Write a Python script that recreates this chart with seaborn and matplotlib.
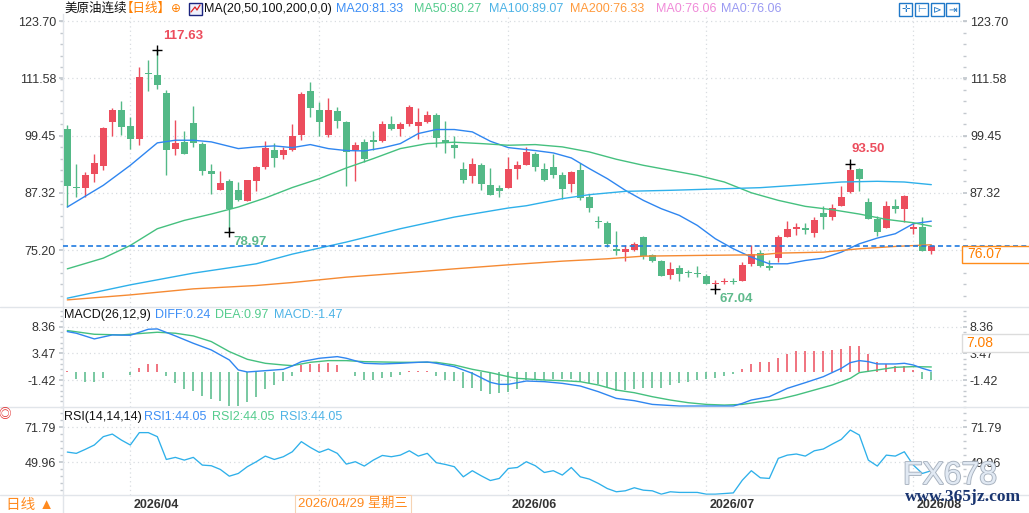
import numpy as np
import matplotlib
matplotlib.use("Agg")
import matplotlib.pyplot as plt
import matplotlib.transforms as mtransforms
import matplotlib.patheffects as pe
from matplotlib.patches import Rectangle
from matplotlib.lines import Line2D
from matplotlib.ticker import FixedLocator
import seaborn as sns

# ---------------- data ----------------
open_ = [100.96, 88.47, 88.36, 91.33, 93.03, 102.37, 104.85, 101.45, 98.76, 112.62,
         112.28, 108.46, 96.64, 98.06, 102.09, 97.63, 91.90, 87.94, 89.78, 87.87,
         85.60, 89.85, 92.75, 96.36, 95.30, 96.50, 99.61, 108.88, 104.85, 99.61,
         104.64, 102.30, 96.36, 98.06, 98.27, 98.34, 101.88, 100.82, 101.88, 101.52,
         102.30, 103.79, 98.48, 97.42, 92.32, 90.91, 93.17, 88.93, 88.29, 88.36,
         92.40, 93.24, 95.51, 92.32, 92.75, 91.05, 89.28, 92.11, 86.38, 81.19,
         80.86, 75.48, 74.77, 75.20, 77.96, 74.07, 72.93, 69.89, 71.31, 70.35,
         70.18, 69.75, 67.98, 68.40, 68.50, 68.62, 72.22, 74.63, 71.73, 73.57,
         78.03, 79.73, 79.87, 78.81, 82.98, 82.27, 84.54, 87.51, 92.32, 85.32,
         81.78, 79.87, 84.47, 83.90, 79.73, 80.01, 74.99]
high = [101.67, 93.39, 91.76, 95.51, 101.31, 105.27, 106.76, 103.36, 113.98, 115.40,
        117.63, 109.03, 102.73, 100.39, 105.70, 98.13, 93.39, 91.90, 90.34, 89.64,
        90.10, 93.03, 98.41, 97.84, 97.14, 101.88, 108.60, 110.80, 106.55, 107.40,
        105.42, 102.66, 98.06, 98.69, 100.39, 102.66, 103.58, 102.30, 105.91, 105.27,
        104.78, 104.28, 102.66, 99.33, 93.81, 94.66, 93.60, 92.54, 88.93, 94.87,
        94.02, 97.00, 96.00, 93.60, 95.58, 91.76, 91.97, 93.67, 87.09, 82.35,
        81.43, 79.16, 76.19, 76.83, 78.10, 74.35, 73.15, 72.58, 72.01, 71.09,
        71.80, 70.17, 68.76, 69.32, 69.32, 72.58, 76.19, 75.13, 73.15, 78.45,
        81.29, 80.86, 80.86, 82.13, 84.54, 85.04, 88.72, 93.50, 92.68, 86.17,
        82.35, 85.53, 86.03, 86.80, 81.00, 82.27, 76.19]
low = [84.33, 86.45, 86.45, 89.64, 92.11, 99.40, 99.54, 96.64, 97.49, 108.88,
       109.24, 91.05, 95.30, 95.58, 97.07, 91.19, 87.16, 87.94, 78.97, 85.60,
       85.50, 87.72, 92.32, 92.75, 94.59, 96.29, 98.55, 103.43, 99.40, 99.19,
       101.10, 88.79, 89.85, 93.81, 96.36, 98.06, 100.60, 99.40, 101.60, 98.76,
       102.09, 97.07, 95.86, 94.73, 89.49, 89.42, 87.94, 86.87, 86.45, 88.36,
       90.27, 93.24, 91.97, 89.85, 90.49, 86.03, 87.51, 85.88, 83.27, 79.87,
       75.91, 74.14, 72.86, 75.06, 73.36, 72.65, 69.68, 69.04, 68.62, 69.47,
       69.47, 67.98, 67.04, 68.12, 68.05, 68.62, 71.80, 71.59, 70.88, 72.65,
       78.03, 78.31, 78.59, 77.96, 79.66, 81.57, 84.54, 87.30, 87.72, 81.78,
       78.17, 79.87, 83.05, 81.15, 78.52, 74.99, 74.35]
close = [88.79, 88.37, 91.05, 93.60, 101.03, 104.85, 101.31, 98.76, 111.86, 112.50,
         110.23, 96.43, 97.84, 95.58, 97.91, 91.97, 91.40, 89.35, 83.90, 85.74,
         89.99, 92.75, 96.78, 94.73, 96.36, 99.33, 108.25, 105.35, 102.37, 104.85,
         102.59, 96.00, 97.42, 94.45, 98.18, 101.88, 100.82, 101.88, 105.49, 102.30,
         103.79, 98.98, 97.91, 96.85, 90.06, 93.39, 89.21, 86.87, 87.72, 92.32,
         93.17, 95.93, 92.82, 90.06, 91.12, 88.15, 91.69, 86.24, 84.12, 81.08,
         76.47, 75.06, 75.34, 76.40, 73.92, 72.86, 69.68, 71.23, 70.10, 70.25,
         70.10, 67.98, 68.33, 68.50, 68.40, 71.94, 74.42, 71.80, 71.38, 77.89,
         79.59, 80.08, 79.52, 81.50, 82.20, 84.19, 86.38, 92.11, 90.27, 81.78,
         79.02, 84.47, 83.90, 86.59, 80.01, 74.99, 76.07]

ma20_day = [0, 4, 7, 10, 12, 14, 16, 19, 21, 23, 25, 27, 29, 31, 33, 35, 37, 39, 41, 43, 45, 47, 49, 51,
            52, 54, 56, 58, 60, 62, 64, 66, 68, 70, 72, 74, 76, 78, 80, 82, 84, 86, 88, 90, 92, 94, 96]
ma20 = [84.33, 88.93, 93.17, 97.92, 98.48, 98.48, 98.13, 96.71, 97.07, 97.28, 96.92, 97.56, 96.71, 96.29,
        96.22, 96.85, 97.77, 99.90, 100.75, 100.75, 100.25, 98.27, 96.92, 96.50, 96.29, 95.79, 94.73,
        92.47, 90.34, 87.87, 85.74, 83.97, 82.56, 80.43, 77.61, 75.48, 73.71, 72.30, 72.30, 73.00,
        73.50, 74.77, 76.54, 77.75, 78.67, 80.79, 81.33]
ma50_day = [0, 4, 7, 10, 13, 16, 19, 22, 25, 28, 31, 34, 37, 40, 43, 46, 49, 52, 55, 58, 61, 64, 67,
            70, 73, 76, 79, 82, 85, 88, 91, 94, 96]
ma50 = [71.23, 73.50, 76.19, 79.73, 81.50, 82.84, 84.33, 86.24, 88.46, 90.34, 92.61, 94.59, 96.71,
        97.77, 98.06, 97.77, 97.42, 97.56, 97.07, 96.00, 94.45, 93.17, 92.11, 91.05, 89.63, 87.35,
        85.74, 84.47, 83.76, 82.84, 81.71, 81.00, 80.27]
ma100_day = [0, 7, 14, 21, 25, 31, 37, 43, 49, 51, 55, 58, 62, 67, 72, 77, 82, 86, 90, 93, 96]
ma100 = [65.01, 67.84, 70.32, 72.30, 74.35, 76.90, 79.73, 82.20, 84.12, 84.60, 86.10, 86.95, 87.65,
         87.87, 88.15, 88.43, 89.07, 89.63, 89.78, 89.63, 89.07]
ma200_day = [0, 7, 14, 21, 25, 31, 37, 43, 49, 55, 60, 64, 70, 77, 79, 84, 88, 92, 96]
ma200 = [64.65, 65.71, 66.99, 67.70, 68.33, 69.47, 70.32, 71.23, 72.08, 72.86, 73.36, 73.92, 74.07,
         74.21, 74.56, 74.77, 75.48, 75.98, 76.33]

macd_hist = [0.3, -1.2, -1.7, -1.8, -1.0, 0.1, 0.1, -0.5, 0.7, 1.5,
             1.5, -0.7, -1.9, -3.1, -3.4, -4.3, -4.9, -5.2, -6.1, -6.1,
             -5.4, -4.5, -3.1, -2.3, -1.6, -0.6, 1.3, 1.6, 1.6, 1.7,
             1.3, 0.1, -0.7, -1.4, -1.4, -1.0, -0.9, -0.5, 0.2, 0.2,
             0.2, -0.7, -1.4, -1.6, -2.8, -2.9, -3.4, -3.9, -3.8, -3.6,
             -3.0, -1.4, -1.4, -1.4, -1.3, -1.3, -1.2, -1.8, -1.9, -2.1,
             -2.7, -3.4, -3.3, -3.1, -2.9, -2.9, -2.9, -2.3, -1.9, -1.7,
             -1.4, -1.3, -1.0, -0.7, -0.3, 0.6, 1.5, 1.8, 1.8, 2.7,
             3.3, 3.8, 3.8, 3.9, 3.9, 4.1, 4.3, 4.8, 4.8, 3.4,
             1.8, 1.5, 1.2, 1.2, 0.4, -1.2, -1.5]
diff_day = [0, 1, 3, 5, 7, 9, 10, 12, 14, 16, 18, 19, 20, 22, 24, 25, 26, 28, 30, 31,
            33, 35, 37, 39, 40, 41, 43, 45, 47, 48, 49, 51, 53, 55, 57, 59, 61, 63, 65, 68,
            72, 74, 75, 76, 78, 80, 82, 84, 86, 87, 88, 89, 90, 92, 93, 94, 95, 96]
diff = [7.44, 7.14, 6.10, 6.83, 6.77, 7.87, 7.93, 6.65, 5.30, 4.08, 2.25, 0.42, 0.05, 0.29, 0.54,
        1.15, 1.94, 2.56, 2.86, 2.56, 1.64, 1.52, 1.64, 1.82, 1.88, 1.64, 1.03, -0.19, -1.84, -2.21,
        -2.21, -1.60, -1.72, -2.03, -2.52, -3.55, -4.78, -5.20, -5.88, -6.18, -6.18, -6.18, -5.69,
        -5.08, -4.47, -2.94, -1.90, -0.81, 0.72, 1.76, 2.13, 1.94, 1.52, 1.52, 1.64, 1.33, 0.72, 0.24]
dea_day = [0, 3, 6, 10, 12, 14, 16, 18, 20, 22, 24, 25, 27, 29, 31, 33, 37, 41, 43, 45,
           47, 49, 50, 53, 55, 57, 59, 61, 63, 65, 67, 69, 71, 73, 75, 77, 79, 81, 83, 85,
           87, 88, 90, 92, 94, 96]
dea = [7.63, 6.95, 6.83, 7.32, 7.14, 6.65, 5.61, 3.78, 2.37, 1.64, 1.33, 1.21, 1.82, 2.13, 2.13,
       1.94, 1.82, 1.82, 1.33, 0.54, -0.07, -0.81, -1.11, -1.42, -1.54, -1.72, -2.33, -3.25, -3.74,
       -4.47, -5.08, -5.57, -5.88, -6.00, -5.88, -5.39, -4.96, -4.17, -3.25, -2.33, -1.11, -0.07,
       0.42, 0.91, 1.03, 0.97]
rsi = [56.4, 55.6, 58.1, 60.8, 66.0, 67.6, 63.9, 60.8, 68.5, 68.5,
       66.0, 51.8, 53.1, 51.4, 53.1, 48.3, 47.9, 45.6, 41.4, 43.1,
       47.3, 50.4, 53.9, 51.8, 53.5, 56.6, 62.9, 59.3, 56.2, 58.3,
       55.6, 48.9, 50.4, 47.7, 51.4, 54.3, 53.5, 54.5, 57.2, 53.9,
       55.6, 49.8, 48.7, 47.3, 41.0, 44.8, 41.6, 38.7, 40.0, 46.2,
       46.8, 50.4, 47.9, 43.7, 44.8, 42.1, 46.8, 41.0, 39.6, 36.9,
       33.7, 31.7, 32.3, 34.2, 32.7, 32.3, 30.2, 31.7, 31.3, 31.3,
       31.3, 30.2, 30.2, 30.6, 31.0, 38.9, 44.8, 40.4, 40.0, 52.5,
       54.5, 55.2, 53.9, 57.2, 58.3, 61.4, 64.3, 70.1, 67.0, 51.4,
       47.7, 54.5, 53.9, 56.6, 48.3, 43.1, 44.8]

month_day = [7, 28, 49, 71, 94]
month_label = ["2026/04", "", "2026/06", "2026/07", "2026/08"]   # 2026/05 is hidden by the crosshair box
price_ticks = [75.20, 87.32, 99.45, 111.58, 123.70]
macd_ticks = [-1.42, 3.47, 8.36]
rsi_ticks = [49.96, 71.79]
extremes = [(10, 117.63, "117.63", "hi"), (18, 78.97, "78.97", "lo"),
            (72, 67.04, "67.04", "lo"), (87, 93.50, "93.50", "hi")]

# ---------------- style ----------------
sns.set_theme(style="white")
plt.rcParams['font.family'] = ['Liberation Sans', 'Noto Sans CJK SC', 'DejaVu Sans']
plt.rcParams['axes.unicode_minus'] = False

RED = "#ec4d5d"
GREEN = "#53b987"
C_MA20 = "#2f86f0"
C_MA50 = "#45c07f"
C_MA100 = "#2eb0ea"
C_MA200 = "#f58a33"
TXT = "#333333"
GRID = "#d8dce0"
SEP = "#e1e5ea"
ORANGE = "#ff7f00"
FS = 9

W, H = 1029, 513
fig = plt.figure(figsize=(W / 100, H / 100), dpi=100)


def fx(px):
    return px / W


def fy(py):
    return 1 - py / H


def add_ax(top, bottom):
    return fig.add_axes([fx(63), fy(bottom), (963 - 63) / W, (bottom - top) / H])


ax = add_ax(14, 306.5)
axm = add_ax(306.5, 407.3)
axr = add_ax(407.3, 495)

XL = (-0.48, 99.52)
for a in (ax, axm, axr):
    a.set_xlim(*XL)
    for s in ("top", "right", "bottom"):
        a.spines[s].set_visible(False)
    a.spines["left"].set_color(SEP)
    a.spines["left"].set_linewidth(1)
    a.set_facecolor("white")
    a.set_xticks(month_day)
    a.set_xticklabels([])
    a.tick_params(axis="x", length=0)
    a.xaxis.grid(True, linestyle=(0, (1, 2.5)), color=GRID, lw=0.9)
    a.yaxis.grid(True, linestyle=(0, (1, 2.5)), color=GRID, lw=0.9)
    a.tick_params(axis="y", which="both", left=True, right=True, labelleft=True, labelright=True,
                  direction="out", color="#c3c8ce", labelsize=9, labelcolor=TXT, pad=2)
    a.tick_params(axis="y", which="major", length=3)
    a.tick_params(axis="y", which="minor", length=2)
    a.set_axisbelow(True)

# ---------------- main panel ----------------
ax.set_ylim(63.25, 125.23)
ax.set_yticks(price_ticks)
ax.set_yticklabels([f"{v:.2f}" for v in price_ticks])
step = (price_ticks[1] - price_ticks[0]) / 5
ax.yaxis.set_minor_locator(FixedLocator(np.arange(price_ticks[0] - 5 * step, 125.2, step)))

o = np.array(open_); h = np.array(high); l = np.array(low); c = np.array(close)
days = np.arange(len(c))
col = np.where(c >= o, RED, GREEN)
ax.vlines(days, l, h, colors=col, lw=1.0, zorder=3)
ax.bar(days, np.maximum(np.abs(c - o), 0.28), bottom=np.minimum(o, c), width=0.72,
       color=col, lw=0, zorder=4)

for d, v, colr in ((ma20_day, ma20, C_MA20), (ma50_day, ma50, C_MA50),
                   (ma100_day, ma100, C_MA100), (ma200_day, ma200, C_MA200)):
    sns.lineplot(x=d, y=v, ax=ax, color=colr, lw=1.0, zorder=5)

for d, v, t, kind in extremes:
    ax.plot(d, v, marker="+", color="black", ms=7, mew=1.0, zorder=6)
    if kind == "hi":
        colr = RED
        off = (4, 6) if d == 10 else (1, 6)
        va = "bottom"
    else:
        colr = "#5fba8c"
        off = (3, -3)
        va = "top"
    ax.annotate(t, (d, v), xytext=off, textcoords="offset points", color=colr,
                fontsize=9.5, fontweight="bold", ha="left", va=va, zorder=7)

# dashed current price line spanning into the right label column
ltr = mtransforms.blended_transform_factory(fig.transFigure, ax.transData)
fig.add_artist(Line2D([fx(63), 1.0], [c[-1], c[-1]], transform=ltr, color="#1f7ae0",
                      lw=1.2, dashes=(3, 2), zorder=2))

# ---------------- MACD panel ----------------
axm.set_ylim(-6.41, 12.03)
axm.set_yticks(macd_ticks)
axm.set_yticklabels([f"{v:.2f}" for v in macd_ticks])
mstep = (macd_ticks[1] - macd_ticks[0]) / 5
axm.yaxis.set_minor_locator(FixedLocator(np.arange(macd_ticks[0] - 5 * mstep, 12.0, mstep)))
hist = np.array(macd_hist)
axm.vlines(days, 0, hist, colors=np.where(hist >= 0, RED, GREEN), lw=1.1, zorder=3)
sns.lineplot(x=dea_day, y=dea, ax=axm, color=C_MA50, lw=1.0, zorder=4)
sns.lineplot(x=diff_day, y=diff, ax=axm, color=C_MA20, lw=1.0, zorder=5)

# ---------------- RSI panel ----------------
axr.set_ylim(29.69, 84.26)
axr.set_yticks(rsi_ticks)
axr.set_yticklabels([f"{v:.2f}" for v in rsi_ticks])
rstep = (rsi_ticks[1] - rsi_ticks[0]) / 5
axr.yaxis.set_minor_locator(FixedLocator(np.arange(rsi_ticks[0] - 4 * rstep, 84.0, rstep)))
sns.lineplot(x=days, y=rsi, ax=axr, color=C_MA100, lw=0.95, zorder=4)

for a in (ax, axm, axr):
    a.set_xlabel("")
    a.set_ylabel("")

# date labels
dtr = mtransforms.blended_transform_factory(axr.transData, fig.transFigure)
for d, lab in zip(month_day, month_label):
    if lab:
        axr.text(d + 0.35, fy(504.5), lab, transform=dtr, ha="left", va="center", fontsize=9,
                 fontweight="bold", color=TXT, clip_on=False)

# ---------------- separators ----------------
for yy in (306.5, 407.3, 495):
    fig.add_artist(Line2D([0, 1], [fy(yy), fy(yy)], color=SEP, lw=1, zorder=1))
fig.add_artist(Line2D([fx(62.5), fx(62.5)], [fy(495), 0], color=SEP, lw=1, zorder=1))

# ---------------- header texts ----------------
ty = fy(9)
fig.text(fx(64), ty, "美原油连续", fontsize=FS, color="#111111", va="center")
fig.text(fx(121), ty, "【日线】", fontsize=FS, color=ORANGE, va="center")
fig.text(fx(171), ty, "⊕", fontsize=8.5, color=ORANGE, va="center", family=["DejaVu Sans"])
fig.add_artist(Rectangle((fx(189), fy(15)), 13 / W, 12 / H, transform=fig.transFigure,
                         fc="#eef0fb", ec="#1a237e", lw=1, zorder=3))
fig.add_artist(Line2D([fx(191), fx(195), fx(197), fx(200)], [fy(12), fy(7), fy(10), fy(5)],
                      color="#e02424", lw=0.9, zorder=4))
fig.text(fx(204), ty, "MA(20,50,100,200,0,0)", fontsize=FS, color="#111111", va="center")
for x0, t, colr in ((336, "MA20:81.33", "#3d8ef5"), (414, "MA50:80.27", "#55cc8e"),
                    (489, "MA100:89.07", "#4db3e6"), (570, "MA200:76.33", "#ff9a3c"),
                    (656, "MA0:76.06", "#f08ad8"), (721, "MA0:76.06", "#9a9af2")):
    fig.text(fx(x0), ty, t, fontsize=FS, color=colr, va="center")

for x0, g in ((899, "✛"), (915, "⊢"), (931, "⊳"), (946, "⇥")):
    fig.add_artist(Rectangle((fx(x0), fy(16)), 13 / W, 13 / H, transform=fig.transFigure,
                             fc="white", ec="#1f78c8", lw=1, zorder=3))
    fig.text(fx(x0 + 6.5), fy(9.5), g, fontsize=7.5, color="#1f78c8", ha="center", va="center",
             family=["DejaVu Sans"], zorder=4)

my = fy(315)
fig.text(fx(64), my, "MACD(26,12,9)", fontsize=FS, color="#111111", va="center")
fig.text(fx(155), my, "DIFF:0.24", fontsize=FS, color="#3d8ef5", va="center")
fig.text(fx(215), my, "DEA:0.97", fontsize=FS, color="#55cc8e", va="center")
fig.text(fx(274), my, "MACD:-1.47", fontsize=FS, color="#4db3e6", va="center")

ry = fy(417)
fig.text(fx(64), ry, "RSI(14,14,14)", fontsize=FS, color="#111111", va="center")
fig.text(fx(144), ry, "RSI1:44.05", fontsize=FS, color="#3d8ef5", va="center")
fig.text(fx(212), ry, "RSI2:44.05", fontsize=FS, color="#55cc8e", va="center")
fig.text(fx(280), ry, "RSI3:44.05", fontsize=FS, color="#4db3e6", va="center")

# right-hand value boxes
fig.add_artist(Rectangle((fx(962), fy(263)), 70 / W, 17.5 / H, transform=fig.transFigure,
                         fc="white", ec="#ff8c1a", lw=1, zorder=2.2))
fig.text(fx(967), fy(254.5), "76.07", fontsize=10, color=ORANGE, va="center", zorder=4)
fig.add_artist(Rectangle((fx(962), fy(352)), 70 / W, 18 / H, transform=fig.transFigure,
                         fc="white", ec="#dcdcdc", lw=1, zorder=2.2))
fig.text(fx(966), fy(343), "7.08", fontsize=10, color=ORANGE, va="center", zorder=4)

# crosshair date box
fig.text(fx(353), fy(504), "2026/04/29 星期三", fontsize=9.5, color="#ff8a1f", ha="center",
         va="center", zorder=5,
         bbox=dict(boxstyle="square,pad=0.25", fc="white", ec="#f6d3b3", lw=0.8))

# bottom-left period label and red marker
fig.text(fx(6), fy(505), "日线 ▲", fontsize=10.5, color="#ff8a1f", va="center")
fig.text(fx(-2), fy(415), "◎", fontsize=9, color="#e02020", va="center")

# watermark
fig.text(fx(950), fy(476), "FX678", fontsize=23, color="#e1e9f3", ha="center", va="center",
         zorder=6, path_effects=[pe.Stroke(linewidth=1.3, foreground="#a7b1be"), pe.Normal()])
fig.text(fx(963), fy(497), "www.365jz.com", fontsize=12.5, color="#1a3570", ha="center",
         va="center", fontweight="bold", family=["Liberation Serif"], zorder=7)

fig.savefig("out.png", dpi=100)
